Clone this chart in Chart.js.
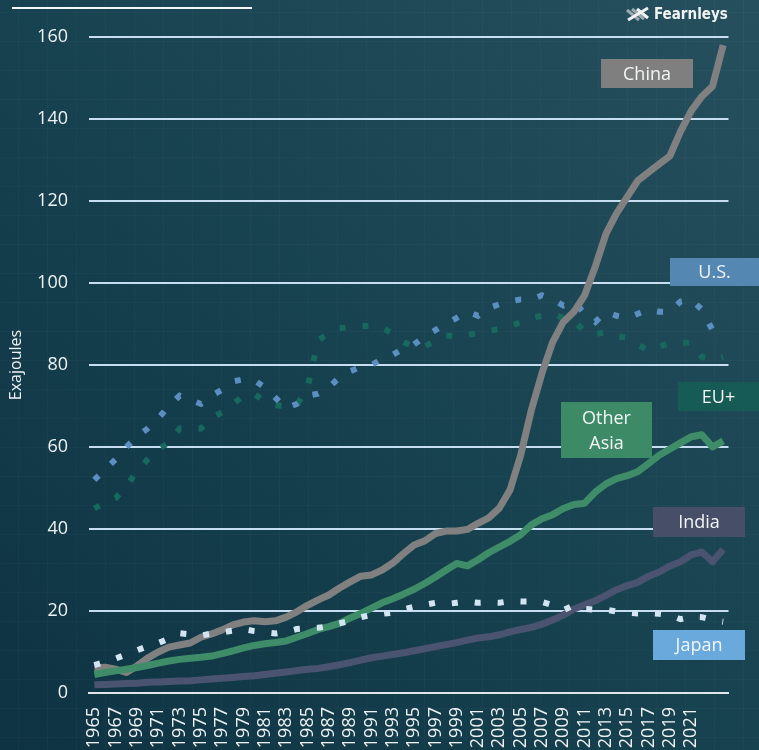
<!DOCTYPE html>
<html>
<head>
<meta charset="utf-8">
<script src="https://cdn.jsdelivr.net/npm/chart.js@4.4.1/dist/chart.umd.min.js"></script>
<style>
    html, body { margin: 0; padding: 0; background: #153e4e; }
    #wrap { width: 759px; height: 750px; position: relative; overflow: hidden; }
</style>
</head>
<body>
<div id="wrap"><canvas id="energycanvas" width="759" height="750"></canvas></div>
<script>
// years on the x axis
let years = [1965, 1966, 1967, 1968, 1969, 1970, 1971, 1972, 1973, 1974,
    1975, 1976, 1977, 1978, 1979, 1980, 1981, 1982, 1983, 1984,
    1985, 1986, 1987, 1988, 1989, 1990, 1991, 1992, 1993, 1994,
    1995, 1996, 1997, 1998, 1999, 2000, 2001, 2002, 2003, 2004,
    2005, 2006, 2007, 2008, 2009, 2010, 2011, 2012, 2013, 2014,
    2015, 2016, 2017, 2018, 2019, 2020, 2021, 2022, 2023, 2024];

// Exajoules
let china = [6.1, 6.3, 5.8, 5.0, 6.6, 8.5, 10.0, 11.2, 11.7, 12.2,
    13.6, 14.4, 15.4, 16.6, 17.3, 17.6, 17.4, 17.6, 18.5, 19.8,
    21.4, 22.7, 23.9, 25.6, 27.1, 28.5, 28.8, 30.0, 31.7, 34.0,
    36.1, 37.1, 38.9, 39.5, 39.5, 39.9, 41.4, 42.7, 45.1, 49.5,
    58.0, 69.0, 78.0, 85.6, 90.5, 93.0, 97.0, 104, 112, 117,
    121, 125, 127, 129, 131, 137, 142, 145.5, 148, 158];
let otherAsia = [4.5, 5.0, 5.4, 5.8, 6.2, 6.7, 7.3, 7.8, 8.2, 8.5,
    8.7, 9.0, 9.6, 10.3, 11.0, 11.6, 12.0, 12.3, 12.7, 13.6,
    14.5, 15.5, 16.2, 17.0, 18.3, 19.4, 20.7, 22.0, 23.0, 24.1,
    25.3, 26.7, 28.3, 30.0, 31.6, 31.0, 32.5, 34.2, 35.6, 37.0,
    38.6, 41.0, 42.5, 43.5, 45.0, 46.0, 46.3, 49.0, 51.0, 52.3,
    53.0, 54.0, 56.0, 58.0, 59.5, 61.0, 62.5, 63.0, 60.0, 61.5];
let india = [2.0, 2.1, 2.2, 2.3, 2.4, 2.6, 2.7, 2.8, 2.9, 3.0,
    3.2, 3.4, 3.6, 3.8, 4.0, 4.2, 4.5, 4.8, 5.1, 5.5,
    5.8, 6.0, 6.4, 6.9, 7.4, 8.0, 8.6, 9.0, 9.4, 9.8,
    10.3, 10.8, 11.3, 11.8, 12.3, 12.9, 13.4, 13.7, 14.2, 14.9,
    15.5, 16.0, 16.8, 17.8, 19.0, 20.5, 21.5, 22.5, 23.8, 25.2,
    26.2, 27.0, 28.5, 29.5, 31.0, 32.0, 33.7, 34.4, 32.0, 35.0];
let japan = [6.8, 7.6, 8.4, 9.4, 10.4, 11.4, 12.2, 13.3, 14.6, 14.3,
    14.0, 14.5, 14.8, 15.2, 15.6, 15.1, 14.8, 14.5, 14.9, 15.6,
    15.8, 15.9, 16.3, 17.0, 17.6, 18.5, 19.0, 19.3, 19.6, 20.4,
    21.0, 21.5, 22.0, 21.7, 22.0, 22.3, 22.0, 22.1, 22.0, 22.4,
    22.3, 22.3, 22.2, 21.4, 20.2, 21.4, 20.5, 20.3, 20.3, 19.9,
    19.6, 19.4, 19.5, 19.3, 19.0, 18.0, 18.6, 18.5, 17.8, 17.4];
let us = [52, 54.5, 57, 60, 62.5, 64.5, 67, 70, 72.5, 71.5,
    70.5, 72.5, 74, 76, 76.5, 76.3, 74.5, 72, 69.5, 70.5,
    72.5, 73, 74.5, 77, 78.5, 79.5, 80, 81.5, 82.5, 84,
    85, 87, 88.5, 90, 91.5, 93, 92, 94, 94.8, 95.5,
    96, 96, 97, 96, 94.5, 95.5, 92.5, 90.5, 93, 92,
    91.5, 92.5, 93.5, 93, 93, 95.5, 96, 93.5, 88.5, 89];
let euPlus = [45, 46.5, 47.5, 50.5, 54, 57, 59.5, 61, 64.5, 64.5,
    64.5, 67, 68.5, 70.5, 72.5, 73, 71, 70.2, 70, 70.2,
    74.5, 86, 87.8, 89, 89.2, 89.5, 89.5, 89.2, 87.5, 85.6,
    84.5, 84.5, 86, 87.2, 87, 87.3, 87.8, 88.3, 88.8, 89.3,
    90.5, 91.5, 92, 92.5, 91.5, 91, 88, 87.5, 88, 87,
    86.7, 85, 83.5, 84.5, 85.4, 85.4, 85.4, 82, 81.2, 82];

// series names for the tag boxes
let seriesNames = ['China', 'U.S.', 'EU+', 'Other Asia', 'India', 'Japan'];

const FONT = '"Open Sans", "Noto Sans", sans-serif';

// พื้นหลัง + ลายตารางจางๆ
const backgroundPlugin = {
    id: 'bgPlugin',
    beforeDraw(chart) {
        let ctx = chart.ctx;
        let w = chart.width, h = chart.height;
        ctx.save();
        let grad = ctx.createLinearGradient(0, h, w, 0);
        grad.addColorStop(0, '#0e3343');
        grad.addColorStop(0.5, '#17424f');
        grad.addColorStop(1, '#27505f');
        ctx.fillStyle = grad;
        ctx.fillRect(0, 0, w, h);
        ctx.strokeStyle = 'rgba(255,255,255,0.025)';
        ctx.lineWidth = 1;
        for (let x = 18; x < w; x += 29) {
            ctx.beginPath(); ctx.moveTo(x + 0.5, 0); ctx.lineTo(x + 0.5, h); ctx.stroke();
        }
        for (let y = 12; y < h; y += 29) {
            ctx.beginPath(); ctx.moveTo(0, y + 0.5); ctx.lineTo(w, y + 0.5); ctx.stroke();
        }
        ctx.restore();
    },
    afterDraw(chart) {
        let ctx = chart.ctx;
        ctx.save();
        // title underline, cut at the top
        ctx.strokeStyle = '#f4f6f7';
        ctx.lineWidth = 2;
        ctx.beginPath(); ctx.moveTo(12, 8); ctx.lineTo(252, 8); ctx.stroke();

        // logo
        ctx.lineCap = 'butt';
        ctx.lineWidth = 3;
        ctx.strokeStyle = '#9aa9b0';
        ctx.beginPath(); ctx.moveTo(627, 10); ctx.lineTo(639, 20); ctx.stroke();
        ctx.beginPath(); ctx.moveTo(632, 9); ctx.lineTo(644, 19); ctx.stroke();
        ctx.strokeStyle = '#f0f3f4';
        ctx.beginPath(); ctx.moveTo(628, 20); ctx.lineTo(648, 8); ctx.stroke();
        ctx.beginPath(); ctx.moveTo(637, 9); ctx.lineTo(648, 18); ctx.stroke();
        ctx.fillStyle = '#f0f3f4';
        ctx.font = 'bold 15px "DejaVu Sans Condensed", "Liberation Sans Narrow", sans-serif';
        ctx.textAlign = 'left';
        ctx.textBaseline = 'middle';
        ctx.fillText('Fearnleys', 654, 15);
        ctx.restore();
    }
};

// กล่องชื่อซีรีส์
const tagPlugin = {
    id: 'tagPlugin',
    afterDatasetsDraw(chart) {
        let ctx = chart.ctx;
        let tags = [
            { x: 601, y: 59, w: 92, h: 29, color: '#7f7f7f', lines: [seriesNames[0]] },
            { x: 670, y: 258, w: 89, h: 28, color: '#5487b2', lines: [seriesNames[1]] },
            { x: 678, y: 382, w: 81, h: 29, color: '#165b55', lines: [seriesNames[2]] },
            { x: 561, y: 402, w: 91, h: 56, color: '#3d8a66', lines: seriesNames[3].split(' ') },
            { x: 653, y: 507, w: 92, h: 30, color: '#474f68', lines: [seriesNames[4]] },
            { x: 653, y: 630, w: 92, h: 30, color: '#6aa9dc', lines: [seriesNames[5]] }
        ];
        ctx.save();
        tags.forEach(function(t) {
            ctx.fillStyle = t.color;
            ctx.fillRect(t.x, t.y, t.w, t.h);
            ctx.fillStyle = '#f3f5f6';
            ctx.font = '18px ' + FONT;
            ctx.textAlign = 'center';
            ctx.textBaseline = 'middle';
            let lh = 25;
            let y0 = t.y + t.h / 2 - (t.lines.length - 1) * lh / 2;
            t.lines.forEach(function(line, i) {
                ctx.fillText(line, t.x + t.w / 2, y0 + i * lh + 1);
            });
        });
        ctx.restore();
    }
};

function solidLine(label, data, color, order) {
    return {
        label: label, data: data, borderColor: color, backgroundColor: color,
        borderWidth: 7, pointRadius: 0, tension: 0, fill: false,
        borderJoinStyle: 'round', borderCapStyle: 'butt', order: order
    };
}

function dotLine(label, data, color, order) {
    return {
        label: label, data: data, borderColor: color, backgroundColor: color,
        borderWidth: 6, pointRadius: 0, tension: 0, fill: false,
        borderDash: [6, 17], borderCapStyle: 'butt', borderJoinStyle: 'miter', order: order
    };
}

function createEnergyCanvas() {
    let ctx = document.getElementById('energycanvas').getContext('2d');
    return new Chart(ctx, {
        type: 'line',
        data: {
            labels: years,
            datasets: [
                dotLine('Japan', japan, '#d3e5f2', 0),
                solidLine('Other Asia', otherAsia, '#3e8c68', 1),
                solidLine('India', india, '#4a5370', 2),
                solidLine('China', china, '#808080', 3),
                dotLine('U.S.', us, '#5b8fc2', 4),
                dotLine('EU+', euPlus, '#17695e', 5)
            ]
        },
        options: {
            responsive: false,
            animation: false,
            layout: { padding: { top: 37, right: 26, left: 0, bottom: 0 } },
            plugins: {
                legend: { display: false },
                tooltip: { enabled: false }
            },
            scales: {
                x: {
                    offset: true,
                    grid: { display: false, drawTicks: false },
                    border: { display: true, color: '#dfe5e8', width: 2 },
                    ticks: {
                        autoSkip: false,
                        maxRotation: 90,
                        minRotation: 90,
                        padding: 14,
                        color: '#eef2f4',
                        font: { family: FONT, size: 18 },
                        callback: function(val, index) {
                            // every 2nd year, last pair left out like the original
                            if (index % 2 === 0 && index <= 56) return years[index];
                            return '';
                        }
                    },
                    afterFit: function(scale) { scale.height = 57; }
                },
                y: {
                    min: 0,
                    max: 160,
                    border: { display: false },
                    grid: {
                        drawTicks: false,
                        lineWidth: 2,
                        color: function(c) { return c.tick && c.tick.value === 0 ? '#dfe5e8' : '#c6def0'; }
                    },
                    ticks: {
                        stepSize: 20,
                        padding: 21,
                        color: '#eef2f4',
                        font: { family: FONT, size: 18 }
                    },
                    title: {
                        display: true,
                        text: 'Exajoules',
                        color: '#eef2f4',
                        font: { family: FONT, size: 16 },
                        padding: { top: 7, bottom: 0 }
                    },
                    afterFit: function(scale) { scale.width = 89; }
                }
            }
        },
        plugins: [backgroundPlugin, tagPlugin]
    });
}

createEnergyCanvas();
</script>
</body>
</html>
